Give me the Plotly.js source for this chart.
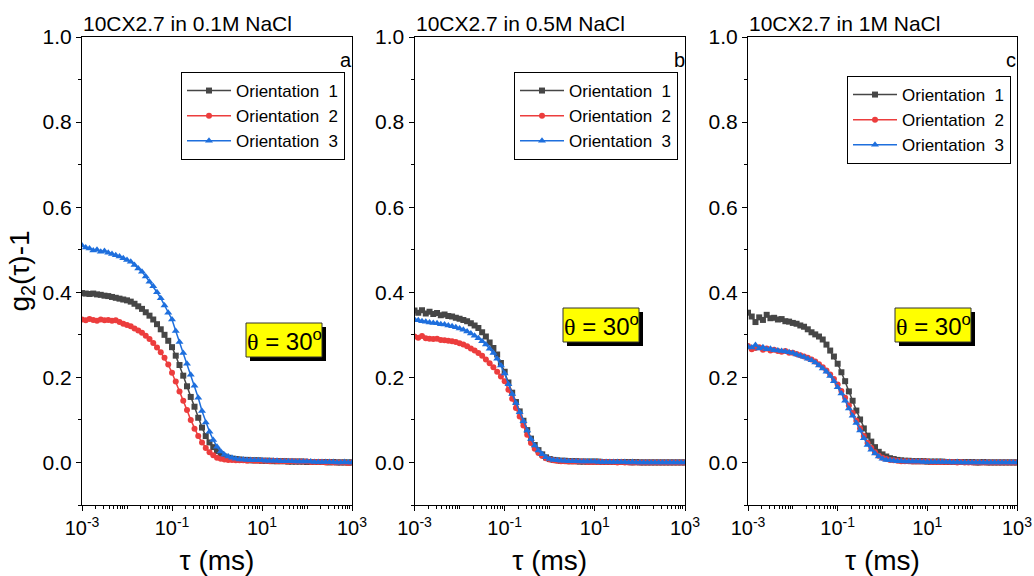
<!DOCTYPE html>
<html><head><meta charset="utf-8">
<script src="https://cdn.plot.ly/plotly-3.0.1.min.js"></script>
<style>html,body{margin:0;padding:0;background:#fff;} #chart{width:1034px;height:576px;}</style>
</head><body><div id="chart"></div>
<script>
// ---- data ----
const tau = [
 0.001,0.0012115,0.0014678,0.0017783,0.0021544,0.0026102,0.0031623,0.0038312,0.0046416,0.0056234,0.0068129,0.008254,
 0.01,0.012115,0.014678,0.017783,0.021544,0.026102,0.031623,0.038312,0.046416,0.056234,0.068129,0.08254,
 0.1,0.12115,0.14678,0.17783,0.21544,0.26102,0.31623,0.38312,0.46416,0.56234,0.68129,0.8254,
 1,1.2115,1.4678,1.7783,2.1544,2.6102,3.1623,3.8312,4.6416,5.6234,6.8129,8.254,
 10,12.115,14.678,17.783,21.544,26.102,31.623,38.312,46.416,56.234,68.129,82.54,
 100,121.15,146.78,177.83,215.44,261.02,316.23,383.12,464.16,562.34,681.29,825.4,
 1000];

const panelTitles = ['10CX2.7 in 0.1M NaCl','10CX2.7 in 0.5M NaCl','10CX2.7 in 1M NaCl'];
const panelLetters = ['a','b','c'];
const seriesNames = ['Orientation\u00a0 1','Orientation\u00a0 2','Orientation\u00a0 3'];
const angleLabel = '<span style="font-family:Liberation Serif">θ</span> = 30<sup>o</sup>';
const xTickVals = [0.001,0.1,10,1000];
const xTickText = ['10<sup>-3</sup>','10<sup>-1</sup>','10<sup>1</sup>','10<sup>3</sup>'];

// panel a (0.1M NaCl)
const a_or1 = [0.398,0.397,0.396,0.397,0.395,0.394,0.392,0.391,0.389,0.387,0.385,0.383,
 0.381,0.378,0.373,0.367,0.361,0.353,0.345,0.336,0.325,0.313,0.300,0.286,
 0.271,0.251,0.229,0.204,0.179,0.154,0.131,0.105,0.082,0.062,0.047,0.036,
 0.027,0.020,0.014,0.011,0.009,0.008,0.007,0.006,0.006,0.005,0.005,0.005,
 0.004,0.004,0.004,0.003,0.003,0.003,0.003,0.002,0.002,0.002,0.002,0.002,
 0.001,0.001,0.001,0.001,0.001,0.001,0.000,0.001,0.000,0.000,0.000,0.000,
 0.000];
const a_or2 = [0.336,0.334,0.337,0.335,0.333,0.336,0.334,0.335,0.333,0.334,0.330,0.326,
 0.323,0.320,0.315,0.310,0.305,0.298,0.290,0.281,0.270,0.259,0.246,0.230,
 0.211,0.190,0.167,0.145,0.123,0.100,0.079,0.062,0.047,0.034,0.024,0.017,
 0.011,0.009,0.007,0.006,0.006,0.005,0.005,0.005,0.004,0.005,0.004,0.004,
 0.004,0.004,0.003,0.004,0.003,0.003,0.003,0.002,0.003,0.002,0.002,0.002,
 0.002,0.001,0.001,0.001,0.001,0.000,0.001,0.000,0.000,0.000,0.000,-0.001,
 0.000];
const a_or3 = [0.510,0.505,0.503,0.498,0.500,0.495,0.497,0.493,0.490,0.487,0.484,0.480,
 0.476,0.472,0.464,0.456,0.448,0.437,0.425,0.414,0.400,0.386,0.369,0.352,
 0.336,0.309,0.283,0.257,0.232,0.206,0.180,0.152,0.121,0.094,0.072,0.053,
 0.037,0.026,0.018,0.014,0.011,0.009,0.007,0.007,0.006,0.006,0.005,0.005,
 0.005,0.004,0.004,0.004,0.004,0.003,0.003,0.003,0.003,0.002,0.002,0.002,
 0.002,0.002,0.001,0.001,0.001,0.001,0.001,0.001,0.000,0.000,0.001,0.000,
 0.000];
// panel b (0.5M NaCl)
const b_or1 = [0.357,0.352,0.358,0.350,0.354,0.349,0.351,0.346,0.348,0.344,0.343,0.340,
 0.338,0.335,0.332,0.327,0.322,0.316,0.306,0.296,0.282,0.269,0.254,0.234,
 0.213,0.188,0.164,0.142,0.120,0.098,0.076,0.056,0.041,0.029,0.019,0.012,
 0.008,0.006,0.005,0.004,0.004,0.003,0.003,0.003,0.002,0.002,0.002,0.002,
 0.002,0.002,0.001,0.001,0.001,0.001,0.001,0.001,0.001,0.001,0.000,0.001,
 0.000,0.000,0.000,0.000,0.000,0.000,0.000,0.000,0.000,0.000,0.000,0.000,
 0.000];
const b_or2 = [0.296,0.293,0.297,0.292,0.291,0.290,0.291,0.288,0.287,0.286,0.285,0.283,
 0.280,0.277,0.273,0.268,0.263,0.257,0.251,0.242,0.233,0.224,0.213,0.202,
 0.191,0.171,0.150,0.128,0.108,0.087,0.065,0.046,0.032,0.022,0.015,0.010,
 0.007,0.005,0.004,0.003,0.003,0.002,0.002,0.002,0.002,0.002,0.001,0.001,
 0.001,0.001,0.001,0.001,0.001,0.001,0.000,0.001,0.000,0.000,0.000,0.000,
 0.000,0.000,0.000,0.000,0.000,0.000,0.000,0.000,0.000,0.000,0.000,0.000,
 0.000];
const b_or3 = [0.336,0.334,0.332,0.331,0.329,0.328,0.327,0.325,0.324,0.322,0.320,0.318,
 0.315,0.312,0.308,0.303,0.298,0.292,0.285,0.277,0.267,0.257,0.244,0.228,
 0.209,0.184,0.161,0.140,0.118,0.097,0.075,0.055,0.040,0.028,0.019,0.012,
 0.008,0.006,0.005,0.004,0.004,0.003,0.003,0.003,0.002,0.002,0.002,0.002,
 0.002,0.001,0.001,0.001,0.001,0.001,0.001,0.001,0.001,0.000,0.001,0.000,
 0.000,0.000,0.000,0.000,0.000,0.000,0.000,0.000,0.000,0.000,0.000,0.000,
 0.000];
// panel c (1M NaCl)
const c_or1 = [0.352,0.343,0.330,0.341,0.335,0.347,0.339,0.340,0.336,0.337,0.332,0.331,
 0.328,0.326,0.322,0.319,0.313,0.306,0.301,0.296,0.289,0.277,0.263,0.249,
 0.232,0.212,0.191,0.167,0.145,0.122,0.101,0.080,0.063,0.049,0.036,0.025,
 0.019,0.014,0.010,0.008,0.006,0.005,0.004,0.004,0.003,0.003,0.003,0.003,
 0.002,0.002,0.002,0.002,0.002,0.001,0.001,0.001,0.001,0.001,0.001,0.001,
 0.001,0.000,0.000,0.001,0.000,0.000,0.000,0.000,0.000,0.000,0.000,0.000,
 0.000];
const c_or2 = [0.274,0.266,0.269,0.271,0.265,0.268,0.263,0.265,0.262,0.260,0.262,0.258,
 0.258,0.255,0.252,0.249,0.246,0.242,0.237,0.231,0.224,0.216,0.207,0.196,
 0.183,0.168,0.152,0.134,0.116,0.098,0.080,0.062,0.046,0.034,0.024,0.016,
 0.011,0.008,0.006,0.005,0.004,0.003,0.003,0.003,0.002,0.002,0.002,0.002,
 0.002,0.001,0.001,0.001,0.001,0.001,0.001,0.001,0.000,0.001,0.000,0.000,
 0.000,0.000,0.000,0.000,0.000,0.000,0.000,0.000,0.000,0.000,0.000,0.000,
 0.000];
const c_or3 = [0.272,0.270,0.276,0.268,0.271,0.266,0.267,0.264,0.263,0.262,0.261,0.259,
 0.257,0.254,0.251,0.248,0.244,0.240,0.235,0.228,0.221,0.213,0.203,0.191,
 0.177,0.162,0.145,0.127,0.110,0.093,0.075,0.057,0.041,0.030,0.021,0.014,
 0.009,0.006,0.005,0.004,0.003,0.003,0.002,0.002,0.002,0.002,0.002,0.001,
 0.001,0.001,0.001,0.001,0.001,0.001,0.001,0.000,0.001,0.000,0.000,0.000,
 0.000,0.000,0.000,0.000,0.000,0.000,0.000,0.000,0.000,0.000,0.000,0.000,
 0.000];

const panelData = [[a_or1,a_or2,a_or3],[b_or1,b_or2,b_or3],[c_or1,c_or2,c_or3]];

// ---- styling ----
const W = 1034, H = 576;
const px = x => x / W, py = y => 1 - y / H;
const FONT = 'Arial, "Liberation Sans", sans-serif';
const colors = ['#464646', '#ec3d3d', '#1e6fdd'];
const symbols = ['square', 'circle', 'triangle-up'];
const msize = [6, 6, 7];
const panels = [
  {x0: 82, x1: 352, legX: 181, legY: 72, box: [246, 323, 322, 357], letterX: 346},
  {x0: 414.5, x1: 685, legX: 514, legY: 72, box: [563, 308, 639, 342], letterX: 679},
  {x0: 748, x1: 1017, legX: 847, legY: 76, box: [895, 308, 971, 342], letterX: 1011}
];
const yTop = 37, yBot = 505;

// minor ticks: 2..9 within each decade, plus the unlabeled decades
const minorVals = [0.01, 1, 100];
for (let d = -3; d < 3; d++) for (let m = 2; m <= 9; m++) minorVals.push(m * Math.pow(10, d));

const traces = [];
const layout = {
  width: W, height: H,
  margin: {l: 0, r: 0, t: 0, b: 0},
  paper_bgcolor: '#fff', plot_bgcolor: '#fff',
  font: {family: FONT, color: '#000', size: 20},
  showlegend: true,
  shapes: [], annotations: []
};

panels.forEach((p, i) => {
  const sfx = i === 0 ? '' : String(i + 1);
  const legName = 'legend' + sfx;
  panelData[i].forEach((ys, j) => {
    traces.push({
      x: tau, y: ys, type: 'scatter', mode: 'lines+markers',
      name: seriesNames[j],
      xaxis: 'x' + sfx, yaxis: 'y' + sfx, legend: legName,
      line: {color: colors[j], width: 1.5},
      marker: {color: colors[j], symbol: symbols[j], size: msize[j], line: {width: 0}}
    });
  });
  layout['xaxis' + sfx] = {
    type: 'log', range: [-3, 3], domain: [px(p.x0), px(p.x1)], anchor: 'y' + sfx,
    showgrid: false, zeroline: false, showline: true, linecolor: '#000', linewidth: 1, mirror: true,
    ticks: 'outside', ticklen: 5, tickcolor: '#000', tickwidth: 1,
    tickmode: 'array', tickvals: xTickVals, ticktext: xTickText,
    tickfont: {size: 20, family: FONT},
    minor: {tickmode: 'array', tickvals: minorVals, ticks: 'outside', ticklen: 3, tickcolor: '#000', tickwidth: 1, showgrid: false},
    title: {text: 'τ (ms)', font: {size: 28, family: FONT}, standoff: 12},
    automargin: false
  };
  const yax = {
    range: [-0.1, 1.0], domain: [py(yBot), py(yTop)], anchor: 'x' + sfx,
    showgrid: false, zeroline: false, showline: true, linecolor: '#000', linewidth: 1, mirror: true,
    ticks: 'outside', ticklen: 5, tickcolor: '#000', tickwidth: 1,
    tickmode: 'linear', tick0: 0, dtick: 0.2, tickformat: '.1f',
    tickfont: {size: 21, family: FONT},
    minor: {tick0: 0, dtick: 0.1, ticks: 'outside', ticklen: 3, tickcolor: '#000', tickwidth: 1, showgrid: false},
    automargin: false
  };
  if (i === 0) yax.title = {text: 'g<sub>2</sub>(τ)-1', font: {size: 28, family: FONT}, standoff: 4};
  layout['yaxis' + sfx] = yax;
  layout[legName] = {
    x: px(p.legX), y: py(p.legY), xanchor: 'left', yanchor: 'top',
    xref: 'paper', yref: 'paper',
    bgcolor: '#fff', bordercolor: '#000', borderwidth: 1,
    font: {size: 17, family: FONT, color: '#000'},
    itemwidth: 44, tracegroupgap: 0, traceorder: 'normal'
  };
  // shadowed angle box
  const [bx0, by0, bx1, by1] = p.box;
  layout.shapes.push({type: 'rect', xref: 'paper', yref: 'paper', layer: 'above',
    x0: px(bx0 + 4), x1: px(bx1 + 4), y0: py(by1 + 4), y1: py(by0 + 4),
    fillcolor: '#000', line: {width: 0}});
  layout.shapes.push({type: 'rect', xref: 'paper', yref: 'paper', layer: 'above',
    x0: px(bx0), x1: px(bx1), y0: py(by1), y1: py(by0),
    fillcolor: '#ffff00', line: {color: '#333', width: 1}});
  layout.annotations.push({xref: 'paper', yref: 'paper', x: px((bx0 + bx1) / 2), y: py((by0 + by1) / 2),
    text: angleLabel, showarrow: false, xanchor: 'center', yanchor: 'middle',
    font: {size: 24, family: FONT, color: '#000'}});
  // panel title
  layout.annotations.push({xref: 'paper', yref: 'paper', x: px(p.x0 - 1), y: py(23),
    text: panelTitles[i], showarrow: false, xanchor: 'left', yanchor: 'middle',
    font: {size: 21, family: FONT, color: '#000'}});
  // panel letter
  layout.annotations.push({xref: 'paper', yref: 'paper', x: px(p.letterX), y: py(60),
    text: panelLetters[i], showarrow: false, xanchor: 'center', yanchor: 'middle',
    font: {size: 20, family: FONT, color: '#000'}});
});

Plotly.newPlot('chart', traces, layout, {staticPlot: true, displayModeBar: false});
</script>
</body></html>
